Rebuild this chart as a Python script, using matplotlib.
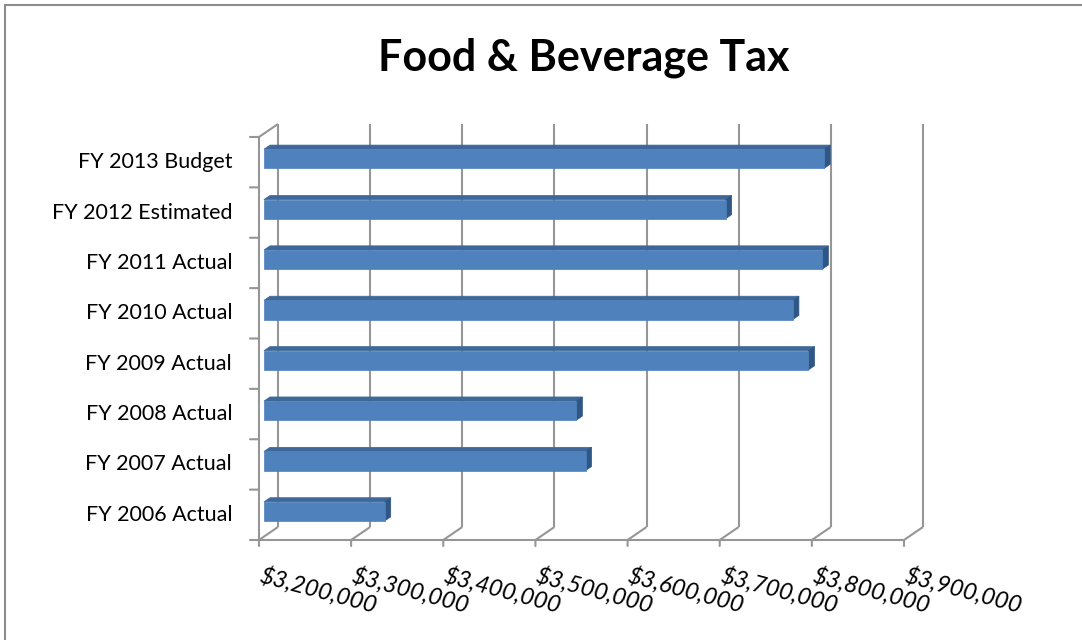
import matplotlib.pyplot as plt
from matplotlib.patches import Polygon, Rectangle

categories = ['FY 2006 Actual', 'FY 2007 Actual', 'FY 2008 Actual', 'FY 2009 Actual',
              'FY 2010 Actual', 'FY 2011 Actual', 'FY 2012 Estimated', 'FY 2013 Budget']
revenue = [3331000, 3549000, 3539000, 3791000, 3774000, 3806000, 3701000, 3808000]
x_ticks = [3200000, 3300000, 3400000, 3500000, 3600000, 3700000, 3800000, 3900000]
x_tick_labels = ['$' + f'{t:,}' for t in x_ticks]

# fake 3D: how far the back wall sits from the front plane, in data units
DEPTH_X = 20600
DEPTH_Y = 0.258
BAR_FRONT = 0.26
BAR_BACK = 0.58
BAR_HALF = 0.19

FACE = '#4F81BD'
TOP = '#3E6899'
SIDE = '#2F5684'
GRID = '#969696'

plt.rcParams['font.family'] = ['Lato', 'DejaVu Sans']

fig = plt.figure(figsize=(10.82, 6.4), dpi=100)
ax = fig.add_axes([259 / 1082, 100 / 640, 645 / 1082, 403 / 640])
xmin, xmax = x_ticks[0], x_ticks[-1]
ymin, ymax = -0.5, len(categories) - 0.5
ax.set_xlim(xmin, xmax)
ax.set_ylim(ymin, ymax)
ax.axis('off')


def depth(x, y, d):
    return (x + d * DEPTH_X, y + d * DEPTH_Y)


def line(p, q, **kw):
    ax.plot([p[0], q[0]], [p[1], q[1]], color=GRID, lw=1.5, clip_on=False,
            solid_capstyle='butt', **kw)


def tick(xy, dx, dy):
    ax.annotate('', xy=xy, xytext=(dx, dy), textcoords='offset pixels',
                arrowprops=dict(arrowstyle='-', color=GRID, lw=1.5,
                                shrinkA=0, shrinkB=0), annotation_clip=False)


# back wall gridlines and floor
for t in x_ticks:
    line(depth(t, ymin, 1), depth(t, ymax, 1), zorder=1)
    line(depth(t, ymin, 0), depth(t, ymin, 1), zorder=1)
    tick((t, ymin), 0, -6)
line((xmin, ymin), (xmax, ymin), zorder=2)
line((xmin, ymin), (xmin, ymax), zorder=2)
line(depth(xmin, ymax, 0), depth(xmin, ymax, 1), zorder=2)

# category tick marks on the left axis
for b in range(len(categories) + 1):
    tick((xmin, ymin + b), -9, 0)

# bars
for i, v in enumerate(revenue):
    lo, hi = i - BAR_HALF, i + BAR_HALF
    front = [depth(xmin, lo, BAR_FRONT), depth(v, lo, BAR_FRONT),
             depth(v, hi, BAR_FRONT), depth(xmin, hi, BAR_FRONT)]
    top = [depth(xmin, hi, BAR_FRONT), depth(v, hi, BAR_FRONT),
           depth(v, hi, BAR_BACK), depth(xmin, hi, BAR_BACK)]
    side = [depth(v, lo, BAR_FRONT), depth(v, hi, BAR_FRONT),
            depth(v, hi, BAR_BACK), depth(v, lo, BAR_BACK)]
    for pts, col in [(top, TOP), (side, SIDE), (front, FACE)]:
        ax.add_patch(Polygon(pts, closed=True, facecolor=col, edgecolor=col,
                             lw=0.5, zorder=3, clip_on=False))

# labels
for i, name in enumerate(categories):
    ax.annotate(name, xy=(xmin, i), xytext=(-27, 0), textcoords='offset pixels',
                ha='right', va='center', fontsize=15.5, annotation_clip=False)
for t, lab in zip(x_ticks, x_tick_labels):
    ax.annotate(lab, xy=(t, ymin), xytext=(4, -24), textcoords='offset pixels',
                ha='left', va='top', rotation=-15, rotation_mode='anchor',
                fontsize=17, style='italic', annotation_clip=False)

fig.text(584 / 1082, 1 - 70 / 640, 'Food & Beverage Tax', ha='center',
         va='baseline', fontsize=31, fontweight='bold')

# chart frame, running off the right and bottom edges
fig.add_artist(Rectangle((5 / 1082, -0.2), 1.2, 1.2 - 5 / 640,
                         transform=fig.transFigure, fill=False,
                         edgecolor='#8C8C8C', lw=1.5))

fig.savefig('out.png', dpi=100)
